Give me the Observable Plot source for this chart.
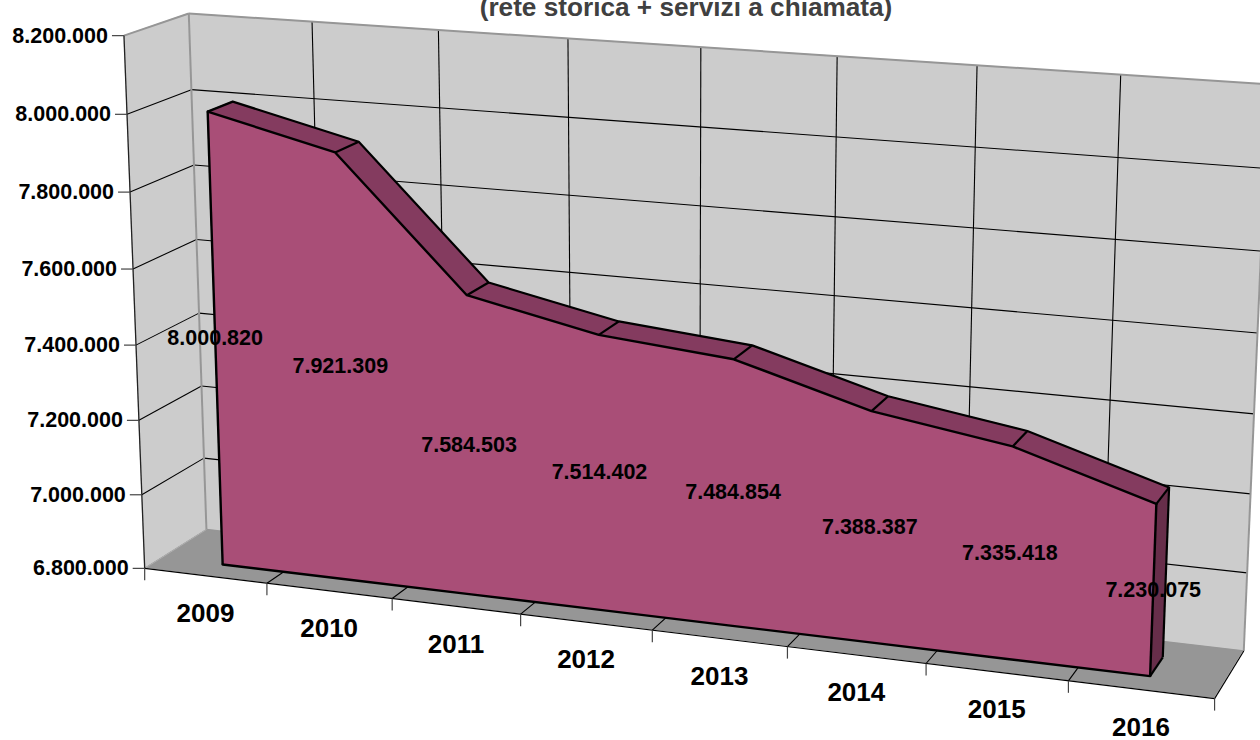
<!DOCTYPE html>
<html lang="it"><head><meta charset="utf-8">
<style>html,body{margin:0;padding:0;background:#fff;overflow:hidden}svg{display:block}</style>
<script src="https://cdn.jsdelivr.net/npm/d3@7"></script>
<script src="https://cdn.jsdelivr.net/npm/@observablehq/plot@0.6"></script>
</head><body><div id="chart"></div>
<script>
// Passengers per year and the value axis of the chart
const years = [2009, 2010, 2011, 2012, 2013, 2014, 2015, 2016];
const values = [8000820, 7921309, 7584503, 7514402, 7484854, 7388387, 7335418, 7230075];
const valueTicks = [6800000, 7000000, 7200000, 7400000, 7600000, 7800000, 8000000, 8200000];
const categorySlots = [0, 1, 2, 3, 4, 5, 6, 7, 8];
const subtitle = "(rete storica + servizi a chiamata)";

// Perspective camera: category slot, value and depth (0 front, 1 back) to screen pixels
const camera = [0.95198, -0.02543, 0.06876, 0.14418, 0.06243, -0.53407, -0.02081, 0.56787, -0.09712, -0.03814, 0.03411];
const valueMin = 6800000, valueMax = 8200000, slotCount = 8;
const depthFront = 0.28, depthBack = 0.68;

function project(slot, value, depth) {
  const u = slot / slotCount, t = (value - valueMin) / (valueMax - valueMin), c = camera;
  const w = c[8] * u + c[9] * t + c[10] * depth + 1;
  return [1000 * (c[0] * u + c[1] * t + c[2] * depth + c[3]) / w, 1000 * (c[4] * u + c[5] * t + c[6] * depth + c[7]) / w];
}
const px = (s, v, d) => project(s, v, d)[0];
const py = (s, v, d) => project(s, v, d)[1];

const rows = years.map((year, i) => ({year, value: values[i], slot: i + 0.5}));
const lastRow = rows.slice(-1);
const fmt = d3.formatLocale({decimal: ",", thousands: ".", grouping: [3], currency: ["", ""]}).format(",");

const font = {fontFamily: "Liberation Sans, Arial, sans-serif", fontWeight: "bold"};
const wall = "#cccccc", floorFill = "#969696", edge = "#969696", grid = "#000";
const faceFront = "#a94e77", faceTop = "#843b5f", faceSide = "#672e4a";

// Filled quadrilateral spanned between two projected lines
const band = (data, a, b, fill) => Plot.area(data, {
  x1: d => px(...a(d)), y1: d => py(...a(d)),
  x2: d => px(...b(d)), y2: d => py(...b(d)), fill, stroke: "none"
});
// Straight line between two projected points
const edgeLink = (data, a, b, stroke, strokeWidth) => Plot.link(data, {
  x1: d => px(...a(d)), y1: d => py(...a(d)),
  x2: d => px(...b(d)), y2: d => py(...b(d)), stroke, strokeWidth
});
const path = (data, a, stroke, strokeWidth) => Plot.line(data, {
  x: d => px(...a(d)), y: d => py(...a(d)), stroke, strokeWidth, strokeLinejoin: "round"
});

const innerSlots = categorySlots.slice(1, -1);
const innerTicks = valueTicks.slice(1, -1);
const ends = [0, 8];
const endFace = lastRow.flatMap(d => [d.value, valueMin].map(value => ({slot: d.slot, value})));

const chart = Plot.plot({
  width: 1260, height: 740,
  marginTop: 0, marginRight: 0, marginBottom: 0, marginLeft: 0,
  x: {type: "identity", axis: null},
  y: {type: "identity", axis: null},
  style: {background: "#fff", overflow: "hidden"},
  marks: [
    // Back wall, left wall and floor
    band(ends, s => [s, valueMax, 1], s => [s, valueMin, 1], wall),
    band([0, 1], d => [0, valueMax, d], d => [0, valueMin, d], wall),
    band(ends, s => [s, valueMin, 0], s => [s, valueMin, 1], floorFill),

    // Grid on the walls and the floor
    edgeLink(innerSlots, s => [s, valueMin, 1], s => [s, valueMax, 1], grid, 1.1),
    edgeLink(innerTicks, v => [0, v, 1], v => [8, v, 1], grid, 1.1),
    edgeLink(innerTicks, v => [0, v, 0], v => [0, v, 1], grid, 1.1),
    edgeLink(innerSlots, s => [s, valueMin, 0], s => [s, valueMin, 1], grid, 1.1),

    // Outer edges of the box
    edgeLink(ends, s => [s, valueMax, 1], s => [s, valueMin, 1], edge, 2),
    edgeLink([0], () => [0, valueMax, 1], () => [8, valueMax, 1], edge, 2),
    edgeLink([0], () => [0, valueMax, 0], () => [0, valueMax, 1], edge, 2),
    edgeLink([0], () => [0, valueMin, 1], () => [8, valueMin, 1], edge, 1.5),
    edgeLink([0], () => [0, valueMin, 0], () => [0, valueMin, 1], "#b0b0b0", 1),
    edgeLink([0], () => [0, valueMax, 0], () => [0, valueMin, 0], "#222", 1.3),
    edgeLink([0], () => [0, valueMin, 0], () => [8, valueMin, 0], "#000", 1.2),
    edgeLink([0], () => [8, valueMin, 0], () => [8, valueMin, 1], "#000", 1.2),

    // Tick marks on both axes
    Plot.link(valueTicks, {
      x1: v => px(0, v, 0) - 12, x2: v => px(0, v, 0),
      y1: v => py(0, v, 0), y2: v => py(0, v, 0), stroke: "#444", strokeWidth: 1.2
    }),
    Plot.link(categorySlots, {
      x1: s => px(s, valueMin, 0), x2: s => px(s, valueMin, 0),
      y1: s => py(s, valueMin, 0), y2: s => py(s, valueMin, 0) + 12, stroke: "#444", strokeWidth: 1.2
    }),

    // Area slab: top strip, end face and front face
    band(rows, d => [d.slot, d.value, depthFront], d => [d.slot, d.value, depthBack], faceTop),
    band(endFace, d => [d.slot, d.value, depthFront], d => [d.slot, d.value, depthBack], faceSide),
    band(rows, d => [d.slot, d.value, depthFront], d => [d.slot, valueMin, depthFront], faceFront),

    // Black outlines of the slab
    path(rows, d => [d.slot, d.value, depthBack], "#000", 2.2),
    path(rows, d => [d.slot, d.value, depthFront], "#000", 2.4),
    path(rows, d => [d.slot, valueMin, depthFront], "#000", 2.4),
    edgeLink(rows, d => [d.slot, d.value, depthFront], d => [d.slot, d.value, depthBack], "#000", 2.2),
    edgeLink([rows[0], rows[7]], d => [d.slot, d.value, depthFront], d => [d.slot, valueMin, depthFront], "#000", 2.4),
    edgeLink(lastRow, d => [d.slot, d.value, depthBack], d => [d.slot, valueMin, depthBack], "#000", 2.2),
    edgeLink(lastRow, d => [d.slot, valueMin, depthFront], d => [d.slot, valueMin, depthBack], "#000", 2.2),

    // Value labels halfway up the front face
    Plot.text(rows, {
      x: d => (px(d.slot, d.value, depthFront) + px(d.slot, valueMin, depthFront)) / 2,
      y: d => (py(d.slot, d.value, depthFront) + py(d.slot, valueMin, depthFront)) / 2,
      text: d => fmt(d.value), fontSize: 21.5, fill: "#000", ...font
    }),

    // Axis labels and subtitle
    Plot.text(valueTicks, {
      x: v => px(0, v, 0), y: v => py(0, v, 0), dx: -16, textAnchor: "end",
      text: v => fmt(v), fontSize: 21.5, fill: "#000", ...font
    }),
    Plot.text(rows, {
      x: d => px(d.slot, valueMin, 0), y: d => py(d.slot, valueMin, 0), dy: 38,
      text: d => String(d.year), fontSize: 26, fill: "#000", ...font
    }),
    Plot.text([subtitle], {
      x: () => 685.5, y: () => 15, lineAnchor: "bottom",
      text: d => d, fontSize: 26.2, fill: "#404040", ...font
    })
  ]
});
document.getElementById("chart").append(chart);
</script></body></html>
